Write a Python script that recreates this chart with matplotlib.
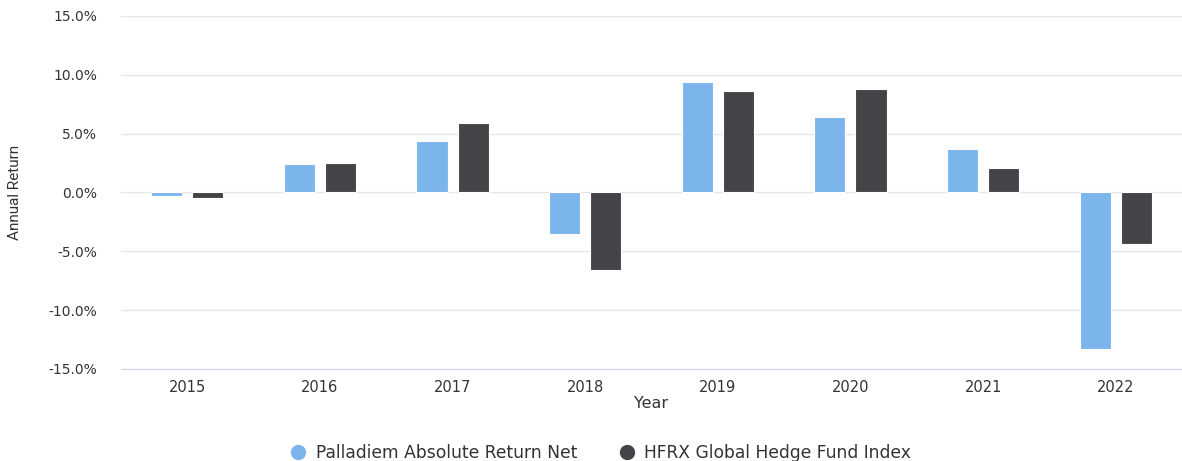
import matplotlib
matplotlib.use("Agg")
import matplotlib.pyplot as plt
import numpy as np
from matplotlib.lines import Line2D
from matplotlib.ticker import FuncFormatter

years = ["2015", "2016", "2017", "2018", "2019", "2020", "2021", "2022"]
palladiem = [-0.3, 2.4, 4.4, -3.5, 9.4, 6.4, 3.7, -13.3]
hfrx = [-0.5, 2.5, 5.9, -6.6, 8.6, 8.8, 2.1, -4.4]
series_names = ["Palladiem Absolute Return Net", "HFRX Global Hedge Fund Index"]
yticks = [-15, -10, -5, 0, 5, 10, 15]

c_light = "#7cb5ec"
c_dark = "#434348"
txt = "#333333"

plt.rcParams['font.family'] = ['DejaVu Sans']

fig = plt.figure(figsize=(11.82, 4.61), dpi=100)
ax = fig.add_axes([121/1182, 1-369/461, 1-121/1182, (369-16)/461])

x = np.arange(len(years))
w = 0.235
off = 0.155
ax.bar(x - off, palladiem, width=w, color=c_light, edgecolor="white", linewidth=0.8, zorder=3)
ax.bar(x + off, hfrx, width=w, color=c_dark, edgecolor="white", linewidth=0.8, zorder=3)

ax.set_xlim(-0.5, len(years) - 0.5)
ax.set_ylim(-15, 15)
ax.set_yticks(yticks)
ax.yaxis.set_major_formatter(FuncFormatter(lambda v, p: f"{v:.1f}%"))
ax.set_xticks(x)
ax.set_xticklabels(years)
ax.grid(axis="y", color="#e6e6e6", linewidth=1, zorder=0)
ax.set_axisbelow(True)
for s in ["top", "right", "left"]:
    ax.spines[s].set_visible(False)
ax.spines["bottom"].set_color("#ccd6eb")
ax.spines["bottom"].set_position(("data", -15))
ax.tick_params(axis="both", length=0, colors=txt)
ax.tick_params(axis="y", pad=17, labelsize=10)
ax.tick_params(axis="x", pad=8, labelsize=10.5)
ax.set_xlabel("Year", fontsize=11.5, color=txt, labelpad=1)
ax.set_ylabel("Annual Return", fontsize=11, color=txt, labelpad=19, family=["Roboto", "DejaVu Sans"])

handles = [Line2D([0], [0], marker="o", linestyle="none", markersize=10, markerfacecolor=c_light, markeredgecolor=c_light),
           Line2D([0], [0], marker="o", linestyle="none", markersize=10, markerfacecolor=c_dark, markeredgecolor=c_dark)]
leg = fig.legend(handles, series_names, loc="center", bbox_to_anchor=(596/1182, 1-453/461), ncol=2,
                 frameon=False, fontsize=12.3, handletextpad=0.05, columnspacing=1.9, labelcolor=txt)

fig.savefig("out.png", dpi=100)
